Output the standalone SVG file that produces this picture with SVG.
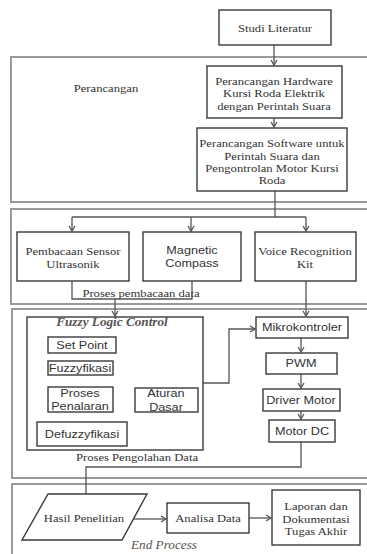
<svg xmlns="http://www.w3.org/2000/svg" width="367" height="554" viewBox="0 0 367 554">
<defs>
<style>
.sec{fill:none;stroke:#9a9a9a;stroke-width:2}
.box{fill:#fff;stroke:#3a3a3a;stroke-width:1.4}
.ser{font-family:"Liberation Serif","Times New Roman",serif;font-size:11px;fill:#333;text-anchor:middle}
.san{font-family:"Liberation Sans",Arial,sans-serif;font-size:11px;fill:#333;text-anchor:middle}
.it{font-family:"Liberation Serif","Times New Roman",serif;font-size:11.5px;font-style:italic;fill:#555;text-anchor:middle}
.ln{fill:none;stroke:#555;stroke-width:1.3}
</style>
<marker id="ar" markerWidth="8" markerHeight="8" refX="6" refY="4" orient="auto" markerUnits="userSpaceOnUse">
<path d="M1,1 L6,4 L1,7" fill="none" stroke="#555" stroke-width="1.3"/>
</marker>
</defs>
<rect width="367" height="554" fill="#fff"/>

<g id="sections">
<rect class="sec" x="11" y="57" width="370" height="145"/>
<rect class="sec" x="11" y="209" width="370" height="95"/>
<rect class="sec" x="12" y="309" width="370" height="169"/>
<rect class="sec" x="12" y="484" width="370" height="90"/>
<text class="ser" x="106" y="92" transform="matrix(1.15 0 0 1 -15.9 0)">Perancangan</text>
<text class="ser" x="141" y="297" transform="matrix(1.15 0 0 1 -21.15 0)">Proses pembacaan data</text>
<text class="ser" x="137" y="461" transform="matrix(1.15 0 0 1 -20.55 0)">Proses Pengolahan Data</text>
<text class="it" x="164" y="549" transform="matrix(1.15 0 0 1 -24.6 0)">End Process</text>
</g>

<g id="connectors">
<line class="ln" x1="274" y1="45" x2="274" y2="65" marker-end="url(#ar)"/>
<line class="ln" x1="274" y1="118" x2="274" y2="127" marker-end="url(#ar)"/>
<polyline class="ln" points="275,191 275,217"/>
<polyline class="ln" points="72,217 306,217"/>
<line class="ln" x1="72" y1="217" x2="72" y2="231" marker-end="url(#ar)"/>
<line class="ln" x1="191" y1="217" x2="191" y2="231" marker-end="url(#ar)"/>
<line class="ln" x1="306" y1="217" x2="306" y2="231" marker-end="url(#ar)"/>
<polyline class="ln" points="72,281 72,299 192,299 192,281"/>
<line class="ln" x1="115" y1="299" x2="115" y2="316" marker-end="url(#ar)"/>
<line class="ln" x1="306" y1="281" x2="306" y2="316" marker-end="url(#ar)"/>
<line class="ln" x1="80" y1="353" x2="80" y2="360" marker-end="url(#ar)"/>
<line class="ln" x1="80" y1="375" x2="80" y2="386" marker-end="url(#ar)"/>
<line class="ln" x1="80" y1="412" x2="80" y2="421" marker-end="url(#ar)"/>
<line class="ln" x1="135" y1="400" x2="114" y2="400" marker-end="url(#ar)"/>
<polyline class="ln" points="203,383 229,383 229,329 255,329" marker-end="url(#ar)"/>
<line class="ln" x1="301" y1="338" x2="301" y2="352" marker-end="url(#ar)"/>
<line class="ln" x1="301" y1="374" x2="301" y2="388" marker-end="url(#ar)"/>
<line class="ln" x1="301" y1="411" x2="301" y2="419" marker-end="url(#ar)"/>
<polyline class="ln" points="301,442 301,467 86,467 86,513" marker-end="url(#ar)"/>
<line class="ln" x1="134" y1="519" x2="166" y2="519" marker-end="url(#ar)"/>
<line class="ln" x1="249" y1="518" x2="271" y2="518" marker-end="url(#ar)"/>
</g>

<g id="studi">
<rect class="box" x="219" y="10" width="112" height="35"/>
<text class="ser" x="275" y="32" transform="matrix(1.15 0 0 1 -41.25 0)">Studi Literatur</text>
</g>
<g id="hardware">
<rect class="box" x="207" y="66" width="135" height="52"/>
<g transform="matrix(1.15 0 0 1 -41.1 0)">
<text class="ser" x="274" y="85">Perancangan Hardware</text>
<text class="ser" x="274" y="97.3">Kursi Roda Elektrik</text>
<text class="ser" x="274" y="109.6">dengan Perintah Suara</text>
</g>
</g>
<g id="software">
<rect class="box" x="197" y="128" width="150" height="63"/>
<g transform="matrix(1.15 0 0 1 -40.8 0)">
<text class="ser" x="272" y="147.5">Perancangan Software untuk</text>
<text class="ser" x="272" y="159.8">Perintah Suara dan</text>
<text class="ser" x="272" y="172.1">Pengontrolan Motor Kursi</text>
<text class="ser" x="272" y="184.4">Roda</text>
</g>
</g>
<g id="ultrasonik">
<rect class="box" x="17" y="232" width="112" height="49"/>
<g transform="matrix(1.15 0 0 1 -10.95 0)">
<text class="ser" x="73" y="255.5">Pembacaan Sensor</text>
<text class="ser" x="73" y="267.8">Ultrasonik</text>
</g>
</g>
<g id="compass">
<rect class="box" x="143" y="232" width="98" height="49"/>
<g transform="matrix(1.15 0 0 1 -28.8 0)">
<text class="san" x="192" y="254">Magnetic</text>
<text class="san" x="192" y="267">Compass</text>
</g>
</g>
<g id="voice">
<rect class="box" x="255" y="232" width="101" height="49"/>
<g transform="matrix(1.15 0 0 1 -45.75 0)">
<text class="ser" x="305" y="255.5">Voice Recognition</text>
<text class="ser" x="305" y="267.8">Kit</text>
</g>
</g>
<g id="flc">
<rect class="box" x="27" y="317" width="176" height="133" fill="none"/>
<text class="it" x="112" y="326.5" style="font-weight:bold" transform="matrix(1.15 0 0 1 -16.8 0)">Fuzzy Logic Control</text>
</g>
<g id="setpoint">
<rect class="box" x="48" y="337" width="68" height="16"/>
<text class="san" x="82" y="349" transform="matrix(1.15 0 0 1 -12.3 0)">Set Point</text>
</g>
<g id="fuzzyfikasi">
<rect class="box" x="48" y="361" width="65" height="14"/>
<text class="san" x="80" y="372.5" transform="matrix(1.15 0 0 1 -12 0)">Fuzzyfikasi</text>
</g>
<g id="penalaran">
<rect class="box" x="48" y="387" width="65" height="25"/>
<g transform="matrix(1.15 0 0 1 -12 0)">
<text class="san" x="80" y="397">Proses</text>
<text class="san" x="80" y="410.5">Penalaran</text>
</g>
</g>
<g id="aturan">
<rect class="box" x="135" y="388" width="63" height="24"/>
<g transform="matrix(1.15 0 0 1 -24.9 0)">
<text class="san" x="166" y="397.5">Aturan</text>
<text class="san" x="166" y="411">Dasar</text>
</g>
</g>
<g id="defuzzyfikasi">
<rect class="box" x="37" y="422" width="90" height="24"/>
<text class="san" x="82" y="438" transform="matrix(1.15 0 0 1 -12.3 0)">Defuzzyfikasi</text>
</g>
<g id="mikrokontroler">
<rect class="box" x="256" y="317" width="92" height="21"/>
<text class="san" x="302" y="331.5" transform="matrix(1.15 0 0 1 -45.3 0)">Mikrokontroler</text>
</g>
<g id="pwm">
<rect class="box" x="266" y="353" width="71" height="21"/>
<text class="san" x="301" y="367.5" transform="matrix(1.15 0 0 1 -45.15 0)">PWM</text>
</g>
<g id="driver">
<rect class="box" x="263" y="389" width="77" height="22"/>
<text class="san" x="301" y="404" transform="matrix(1.15 0 0 1 -45.15 0)">Driver Motor</text>
</g>
<g id="motordc">
<rect class="box" x="269" y="420" width="66" height="22"/>
<text class="san" x="302" y="435.5" transform="matrix(1.15 0 0 1 -45.3 0)">Motor DC</text>
</g>
<g id="hasil">
<polygon class="box" points="48,494 147,494 122,540 22,540" fill="none"/>
<text class="ser" x="84" y="522.5" transform="matrix(1.15 0 0 1 -12.6 0)">Hasil Penelitian</text>
</g>
<g id="analisa">
<rect class="box" x="167" y="503" width="82" height="30"/>
<text class="ser" x="208" y="522" transform="matrix(1.15 0 0 1 -31.2 0)">Analisa Data</text>
</g>
<g id="laporan">
<rect class="box" x="272" y="490" width="88" height="55"/>
<g transform="matrix(1.15 0 0 1 -47.4 0)">
<text class="ser" x="316" y="510.5">Laporan dan</text>
<text class="ser" x="316" y="522.8">Dokumentasi</text>
<text class="ser" x="316" y="535.1">Tugas Akhir</text>
</g>
</g>
</svg>
